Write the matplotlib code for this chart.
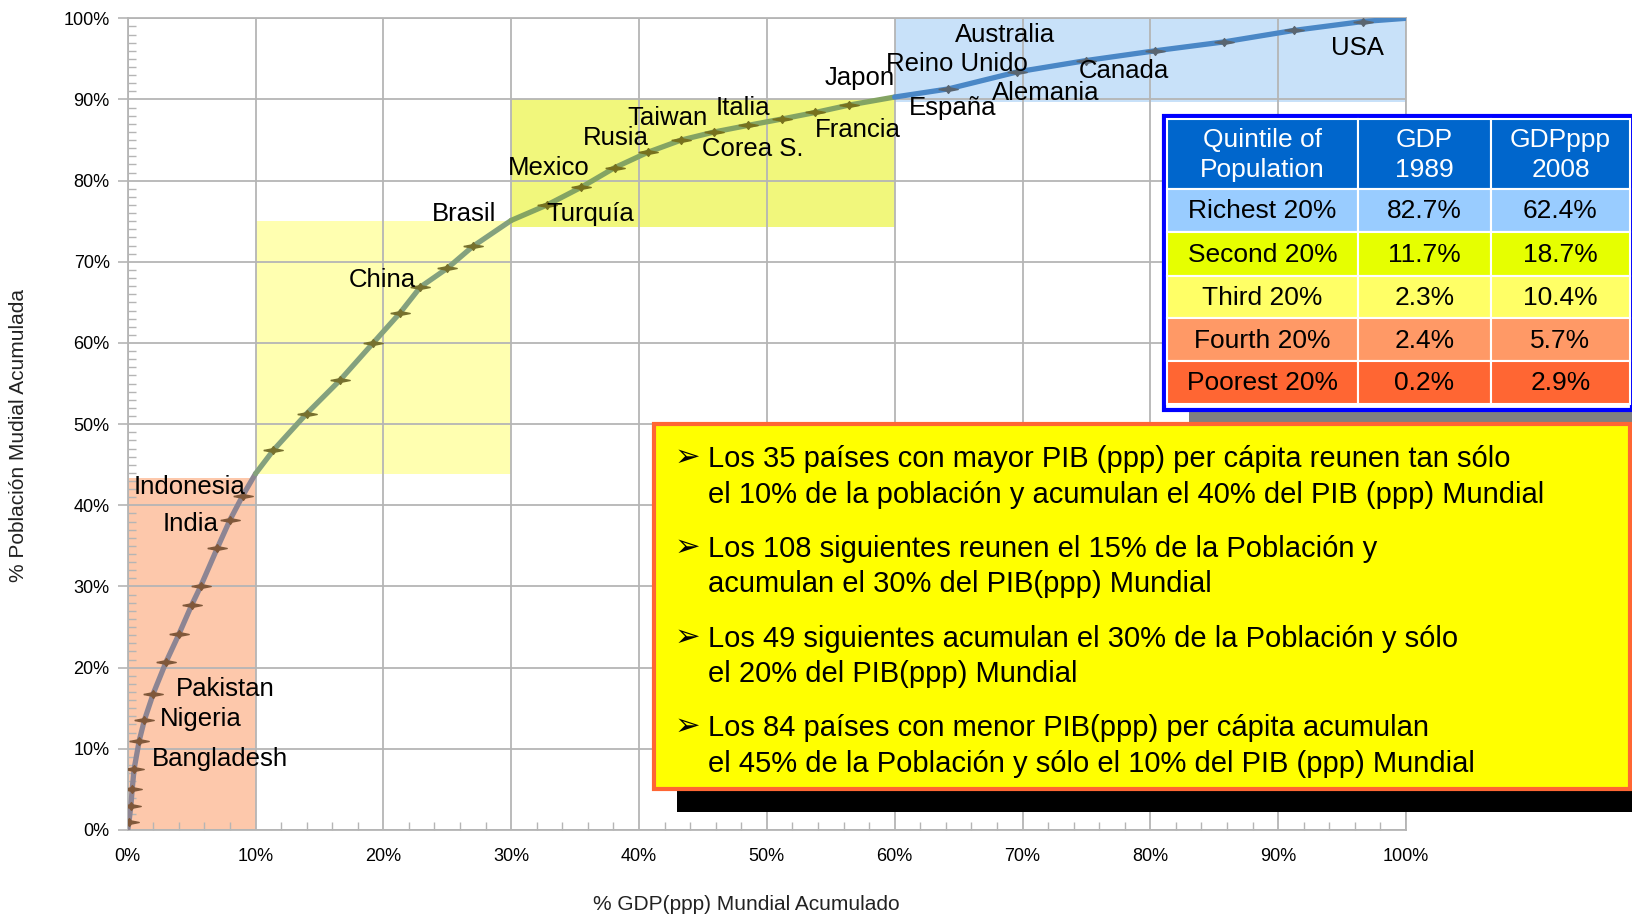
import matplotlib
matplotlib.use("Agg")
import matplotlib.pyplot as plt
from matplotlib.patches import Rectangle
from matplotlib.ticker import MultipleLocator, PercentFormatter

plt.rcParams['font.family'] = ['Liberation Sans', 'DejaVu Sans']

# cumulative GDP(ppp) % (x) vs cumulative world population % (y), one list per quintile band
poor_gdp = [0, 0.1, 0.25, 0.35, 0.5, 0.9, 1.3, 2.0, 3.0, 4.0, 5.0, 5.7, 7.0, 8.0, 9.0, 10.0]
poor_pop = [0, 1.0, 3.0, 5.0, 7.5, 11.0, 13.5, 16.8, 20.7, 24.1, 27.7, 30.0, 34.7, 38.2, 41.2, 43.9]
mid_gdp = [10.0, 11.4, 14.0, 16.6, 19.2, 21.3, 22.9, 25.0, 27.0, 30.0]
mid_pop = [43.9, 46.8, 51.3, 55.4, 60.0, 63.7, 66.9, 69.2, 71.9, 75.1]
upper_gdp = [30.0, 32.8, 35.5, 38.1, 40.7, 43.3, 45.9, 48.5, 51.2, 53.8, 56.4, 60.0]
upper_pop = [75.1, 77.0, 79.2, 81.6, 83.5, 85.0, 86.0, 86.8, 87.6, 88.4, 89.3, 90.3]
rich_gdp = [60.0, 64.2, 69.6, 75.0, 80.4, 85.8, 91.2, 96.6, 100.0]
rich_pop = [90.3, 91.3, 93.4, 94.8, 96.0, 97.1, 98.5, 99.6, 100.0]

# shaded bands (gdp range, population range)
band_gdp = [(0, 10), (10, 30), (30, 60), (60, 100)]
band_pop = [(0, 43.4), (43.9, 75.0), (74.3, 90.0), (89.7, 100)]

countries = ["Indonesia", "India", "Pakistan", "Nigeria", "Bangladesh", "China", "Brasil",
             "Turquía", "Mexico", "Rusia", "Taiwan", "Italia", "Corea S.", "Francia", "Japon",
             "Reino Unido", "Australia", "España", "Alemania", "Canada", "USA"]

# table
quintiles = ["Richest 20%", "Second 20%", "Third 20%", "Fourth 20%", "Poorest 20%"]
gdp_1989 = ["82.7%", "11.7%", "2.3%", "2.4%", "0.2%"]
gdpppp_2008 = ["62.4%", "18.7%", "10.4%", "5.7%", "2.9%"]
headers = ["Quintile of\nPopulation", "GDP\n1989", "GDPppp\n2008"]

bullets = [
    ["Los 35 países con mayor PIB (ppp) per cápita reunen tan sólo",
     "el 10% de la población y acumulan el 40% del PIB (ppp) Mundial"],
    ["Los 108 siguientes reunen el 15% de la Población y",
     "acumulan el 30% del PIB(ppp) Mundial"],
    ["Los 49 siguientes acumulan el 30% de la Población y sólo",
     "el 20% del PIB(ppp) Mundial"],
    ["Los 84 países con menor PIB(ppp) per cápita acumulan",
     "el 45% de la Población y sólo el 10% del PIB (ppp) Mundial"],
]

W, H = 1633, 916
fig = plt.figure(figsize=(W / 100, H / 100), dpi=100)
ax = fig.add_axes([127.7 / W, 1 - 830 / H, (1406 - 127.7) / W, (830 - 18.3) / H])

band_colors = ["#fdc8ab", "#ffffb0", "#f1f77c", "#c8e1f9"]
for (x0, x1), (y0, y1), c in zip(band_gdp, band_pop, band_colors):
    ax.add_patch(Rectangle((x0, y0), x1 - x0, y1 - y0, color=c, zorder=0, lw=0))

star = [(-1, 0), (-0.18, 0.16), (0, 0.4), (0.18, 0.16), (1, 0), (0.18, -0.16),
        (0, -0.4), (-0.18, -0.16), (-1, 0)]
segs = [(poor_gdp, poor_pop, "#8d8593", "#80583a"),
        (mid_gdp, mid_pop, "#84a17e", "#77712e"),
        (upper_gdp, upper_pop, "#84a463", "#77711e"),
        (rich_gdp, rich_pop, "#4a87c6", "#5a6570")]
for gx, py, lc, mc in segs:
    ax.plot(gx, py, color=lc, lw=3.8, zorder=3, solid_capstyle="round")
    ax.plot(gx[1:-1], py[1:-1], ls="none", marker=star, ms=14, color=mc, zorder=4)

label_x = [4.8, 4.9, 7.6, 5.7, 7.2, 19.9, 26.3, 36.2, 32.9, 38.2, 42.2, 48.1, 48.9, 57.1,
           57.3, 64.9, 68.6, 64.5, 71.8, 77.9, 96.2]
label_y = [42.3, 37.7, 17.4, 13.7, 8.8, 67.7, 75.9, 75.9, 81.5, 85.3, 87.7, 88.9, 83.9, 86.2,
           92.6, 94.4, 98.0, 88.9, 90.8, 93.5, 96.4]
for name, lx, ly in zip(countries, label_x, label_y):
    ax.text(lx, ly, name, ha="center", va="center", fontsize=18.5, zorder=5)

ax.set_xlim(0, 100)
ax.set_ylim(0, 100)
ax.xaxis.set_major_locator(MultipleLocator(10))
ax.yaxis.set_major_locator(MultipleLocator(10))
ax.xaxis.set_minor_locator(MultipleLocator(2))
ax.yaxis.set_minor_locator(MultipleLocator(1))
ax.xaxis.set_major_formatter(PercentFormatter(decimals=0))
ax.yaxis.set_major_formatter(PercentFormatter(decimals=0))
ax.grid(True, which="major", color="#b5b5b5", lw=1.3, zorder=1)
ax.set_axisbelow(True)
for s in ax.spines.values():
    s.set_color("#b5b5b5")
    s.set_linewidth(1.3)
ax.tick_params(axis="y", which="major", length=7, width=1.2, color="#b5b5b5",
               direction="out", pad=6, labelsize=13)
ax.tick_params(axis="x", which="major", length=0, pad=13, labelsize=13)
ax.tick_params(which="minor", length=5.5, width=1, color="#b5b5b5", direction="in")
ax.tick_params(axis="both", which="both", top=False, right=False)

fig.text(19 / W, 1 - 435 / H, "% Población Mudial Acumulada", rotation=90,
         ha="center", va="center", fontsize=15, color="#222222")
fig.text(746 / W, 1 - 904 / H, "% GDP(ppp) Mundial Acumulado",
         ha="center", va="center", fontsize=15, color="#222222")

# overlay in pixel coordinates for the table and the text box
ov = fig.add_axes([0, 0, 1, 1])
ov.set_xlim(0, W)
ov.set_ylim(H, 0)
ov.axis("off")

# table
ov.add_patch(Rectangle((1189, 404), W - 1189, 18, color="#808080", lw=0))
ov.add_patch(Rectangle((1164, 116), 1632 - 1164, 294, facecolor="white",
                       edgecolor="#0000ff", lw=3))
col_edges = [1167, 1358, 1491, 1630]
row_edges = [119, 189, 232, 276, 318, 361, 404]
row_colors = ["#0066cc", "#99ccff", "#e6ff00", "#ffff66", "#ff9966", "#ff6633"]
cells = [headers] + [[q, a, b] for q, a, b in zip(quintiles, gdp_1989, gdpppp_2008)]
for r, row in enumerate(cells):
    y0, y1 = row_edges[r], row_edges[r + 1]
    for c, val in enumerate(row):
        x0, x1 = col_edges[c], col_edges[c + 1]
        ov.add_patch(Rectangle((x0, y0), x1 - x0, y1 - y0, facecolor=row_colors[r],
                               edgecolor="white", lw=1.5))
        ov.text((x0 + x1) / 2, (y0 + y1) / 2 + 1, val, ha="center", va="center",
                fontsize=19, color="white" if r == 0 else "black", linespacing=1.3)

# text box
ov.add_patch(Rectangle((677, 789), W - 677, 23, color="black", lw=0))
ov.add_patch(Rectangle((654, 424), 1630 - 654, 365, facecolor="#ffff00",
                       edgecolor="#ff6633", lw=3))
baselines = [467, 503, 557, 592, 647, 682, 736, 772]
for i, lines in enumerate(bullets):
    b1, b2 = baselines[2 * i], baselines[2 * i + 1]
    ov.text(675, b1 - 1, "➢", ha="left", va="baseline", fontsize=22,
            family=["DejaVu Sans"])
    ov.text(708, b1, lines[0], ha="left", va="baseline", fontsize=21)
    ov.text(708, b2, lines[1], ha="left", va="baseline", fontsize=21)

fig.savefig("out.png", dpi=100)
